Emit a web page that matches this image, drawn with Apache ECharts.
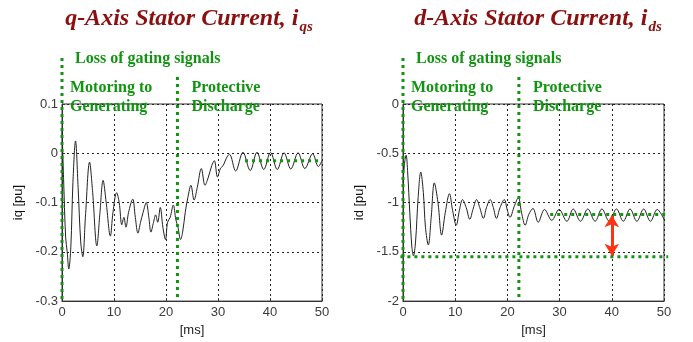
<!DOCTYPE html>
<html>
<head>
<meta charset="utf-8">
<script src="https://cdn.jsdelivr.net/npm/echarts@6/dist/echarts.min.js"></script>
<style>
  html, body { margin: 0; padding: 0; background: #fff; }
  #chart { width: 693px; height: 342px; }
</style>
</head>
<body>
<div id="chart"></div>
<script>
// q-axis stator current (time in ms, value in pu)
const iqTime = [0, 0.3, 0.7, 1.0, 1.3, 1.7, 2.1, 2.6, 3.1, 3.6, 4.0, 4.5, 5.3, 5.9, 6.7, 7.3, 7.9, 8.5, 9.3, 9.8,
  10.5, 11.0, 11.5, 11.9, 12.3, 12.8, 13.6, 14.1, 14.6, 15.1, 15.6, 16.2, 16.7, 17.1, 17.6, 18.0, 18.4, 18.9, 19.4, 19.9,
  20.3, 20.8, 21.4, 21.9, 22.3, 22.8, 23.2, 23.7, 24.2, 24.8, 25.4, 26.0, 26.8, 27.5, 28.1, 28.8, 29.3, 29.9,
  30.5, 31.0, 31.6, 32.2, 33.4, 34.8, 36.2, 37.5, 38.8, 40.1, 41.4, 42.7, 44.0, 45.4, 46.7, 48.2, 49.3, 50.0];
const iqValue = [0.05, -0.05, -0.17, -0.2, -0.235, -0.19, -0.06, 0.025, -0.07, -0.18, -0.21, -0.13, -0.018, -0.08, -0.188, -0.12, -0.055, -0.1, -0.168, -0.12,
  -0.08, -0.1, -0.145, -0.13, -0.15, -0.12, -0.093, -0.13, -0.162, -0.14, -0.12, -0.1, -0.13, -0.16, -0.14, -0.125, -0.14, -0.11, -0.15, -0.175,
  -0.14, -0.13, -0.105, -0.135, -0.15, -0.175, -0.16, -0.12, -0.09, -0.065, -0.095, -0.07, -0.031, -0.065, -0.05, -0.025, -0.015, -0.048,
  -0.03, -0.025, -0.01, -0.002, -0.036, 0.002, -0.035, 0.002, -0.033, 0.002, -0.033, 0.001, -0.032, 0.001, -0.031, -0.001, -0.027, -0.015];

// d-axis stator current
const idTime = [0, 0.3, 0.6, 0.9, 1.3, 1.7, 2.0, 2.4, 2.9, 3.4, 3.9, 4.3, 4.85, 5.4, 6.0, 6.7, 7.4, 8.1, 8.9, 9.5,
  10.2, 10.8, 11.4, 12.1, 12.8, 13.4, 14.1, 14.7, 15.4, 16.0, 16.7, 17.3, 17.9, 18.6, 19.4, 20.0, 20.5, 21.3, 22.1, 22.7,
  23.4, 24.1, 24.9, 25.9, 27.1, 28.5, 29.9, 31.4, 32.6, 34.0, 35.4, 36.8, 38.1, 39.5, 40.9, 42.2, 43.5, 44.8, 46.1, 47.4, 48.7, 50.0];
const idValue = [-0.8, -0.6, -0.52, -0.7, -1.1, -1.45, -1.54, -1.4, -0.95, -0.69, -0.9, -1.25, -1.43, -1.15, -0.8, -1.0, -1.33, -1.1, -0.91, -1.08,
  -1.23, -1.08, -0.97, -1.05, -1.17, -1.07, -0.97, -1.05, -1.16, -1.05, -0.97, -1.05, -1.16, -1.05, -0.97, -1.08, -1.15, -1.04, -0.95, -1.1,
  -1.23, -1.12, -1.06, -1.2, -1.07, -1.18, -1.07, -1.19, -1.065, -1.19, -1.065, -1.19, -1.065, -1.19, -1.065, -1.19, -1.065, -1.19, -1.065, -1.19, -1.07, -1.17];

// annotation values
const xTicks = { min: 0, max: 50, interval: 10 };
const eventTimes = [0, 22.2];           // loss of gating / start of protective discharge
const iqSteady = { value: -0.015, from: 35.2, to: 50 };
const idSteady = { value: -1.12, from: 28.2, to: 50.8 };
const idPeak = { value: -1.55, from: -0.5, to: 50.8 };
const arrowTime = 40;

const GREEN = '#119411';
const axisFont = { fontFamily: 'Liberation Sans', fontSize: 13, color: '#3a3a3a' };

function xAxis(gridIndex) {
  return {
    gridIndex, type: 'value', min: xTicks.min, max: xTicks.max, interval: xTicks.interval,
    name: '[ms]', nameLocation: 'middle', nameGap: 19,
    nameTextStyle: { fontFamily: 'Liberation Sans', fontSize: 13, color: '#222' },
    axisLine: { onZero: false, lineStyle: { color: '#333' } },
    axisTick: { inside: true, length: 3, lineStyle: { color: '#333' } },
    axisLabel: Object.assign({ margin: 5 }, axisFont),
    splitLine: { show: true, lineStyle: { color: '#222', type: [2, 3], width: 1 } }
  };
}
function yAxis(gridIndex, min, max, interval, name) {
  return {
    gridIndex, type: 'value', min, max, interval,
    name, nameLocation: 'middle', nameGap: 37, nameRotate: 90,
    nameTextStyle: { fontFamily: 'Liberation Sans', fontSize: 13, color: '#111' },
    axisLine: { onZero: false, lineStyle: { color: '#333' } },
    axisTick: { inside: true, length: 3, lineStyle: { color: '#333' } },
    axisLabel: Object.assign({ margin: 4 }, axisFont),
    splitLine: { show: true, lineStyle: { color: '#222', type: [2, 3], width: 1 } }
  };
}

const chart = echarts.init(document.getElementById('chart'), null, { renderer: 'canvas' });
chart.setOption({
  animation: false,
  backgroundColor: '#fff',
  grid: [
    { left: 62, top: 104, width: 260, height: 199, show: true, borderColor: '#333', borderWidth: 1 },
    { left: 403, top: 104, width: 261, height: 199, show: true, borderColor: '#333', borderWidth: 1 }
  ],
  xAxis: [xAxis(0), xAxis(1)],
  yAxis: [yAxis(0, -0.3, 0.1, 0.1, 'iq [pu]'), yAxis(1, -2, 0, 0.5, 'id [pu]')],
  series: [
    {
      type: 'line', xAxisIndex: 0, yAxisIndex: 0, showSymbol: false, smooth: 0.35,
      lineStyle: { color: '#222', width: 1 },
      data: iqTime.map((t, i) => [t, iqValue[i]])
    },
    {
      type: 'line', xAxisIndex: 1, yAxisIndex: 1, showSymbol: false, smooth: 0.35,
      lineStyle: { color: '#222', width: 1 },
      data: idTime.map((t, i) => [t, idValue[i]]),
      markLine: {
        silent: true, symbol: ['arrow', 'arrow'], symbolSize: [11, 12],
        label: { show: false },
        lineStyle: { color: '#ff3311', width: 3, type: 'solid' },
        data: [[{ coord: [arrowTime, idSteady.value - 0.01] }, { coord: [arrowTime, idPeak.value + 0.01] }]]
      }
    }
  ]
});

// green annotation lines and text placed through the axis scales
function px(grid, x, y) {
  return chart.convertToPixel({ xAxisIndex: grid, yAxisIndex: grid }, [x, y]);
}
const dotted = { stroke: GREEN, lineWidth: 3, lineDash: [3, 4] };
const noteFont = 'bold 16px "Liberation Serif"';
function note(text, x, y) {
  return { type: 'text', x, y, z: 20, style: { text, font: noteFont, fill: GREEN, verticalAlign: 'middle' } };
}
function hline(grid, h) {
  const a = px(grid, h.from, h.value), b = px(grid, h.to, h.value);
  return { type: 'line', z: 20, shape: { x1: a[0], y1: a[1], x2: b[0], y2: b[1] }, style: dotted };
}
const graphics = [];
const yBottoms = [-0.3, -2];
[0, 1].forEach(g => {
  const x0 = px(g, eventTimes[0], yBottoms[g]);
  const x1 = px(g, eventTimes[1], yBottoms[g]);
  graphics.push({ type: 'line', z: 20, shape: { x1: x0[0], y1: 58, x2: x0[0], y2: x0[1] }, style: dotted });
  graphics.push({ type: 'line', z: 20, shape: { x1: x1[0], y1: 77, x2: x1[0], y2: x1[1] }, style: dotted });
  graphics.push(note('Loss of gating signals', x0[0] + 13, 59));
  graphics.push(note('Motoring to', x0[0] + 8, 88));
  graphics.push(note('Generating', x0[0] + 8, 107));
  graphics.push(note('Protective', x1[0] + 14, 88));
  graphics.push(note('Discharge', x1[0] + 14, 107));
});
graphics.push(hline(0, iqSteady));
graphics.push(hline(1, idSteady));
graphics.push(hline(1, idPeak));

const titleRich = {
  m: { font: 'italic bold 24px "Liberation Serif"', fill: '#8b0f0f', lineHeight: 26, verticalAlign: 'top' },
  s: { font: 'italic bold 15px "Liberation Serif"', fill: '#8b0f0f', lineHeight: 15, padding: [13, 0, 0, 1], verticalAlign: 'top' }
};
function title(main, sub, cx) {
  return { type: 'text', x: cx, y: 7, style: { text: '{m|' + main + '}{s|' + sub + '}', rich: titleRich, align: 'center', verticalAlign: 'top' } };
}
graphics.push(title('q-Axis Stator Current, i', 'qs', 189));
graphics.push(title('d-Axis Stator Current, i', 'ds', 538));

chart.setOption({ graphic: graphics });
</script>
</body>
</html>
